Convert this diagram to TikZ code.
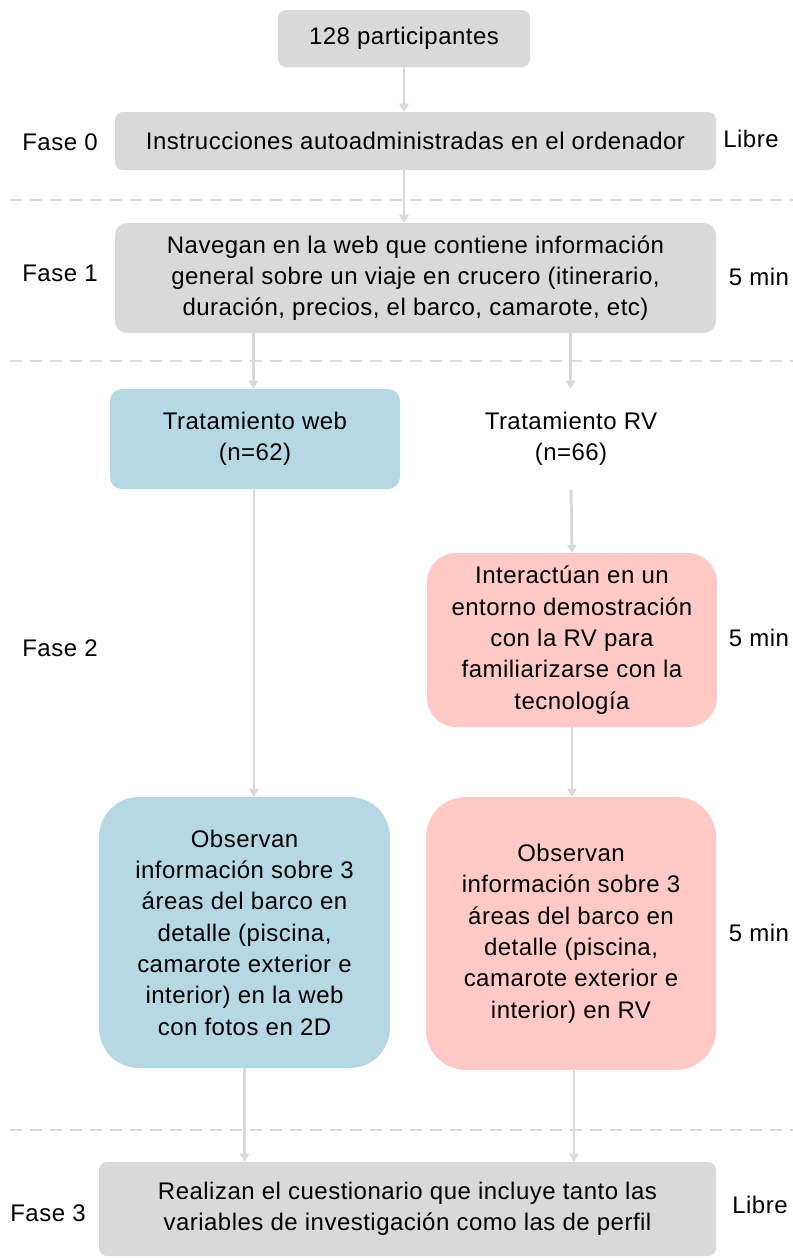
\documentclass[tikz,border=0pt]{standalone}
\usepackage{fontspec}
\setmainfont{Liberation Sans}[LetterSpace=2]
\usetikzlibrary{arrows.meta}
\definecolor{boxgray}{HTML}{D9D9D9}
\definecolor{boxblue}{HTML}{B6D8E4}
\definecolor{boxpink}{HTML}{FFC9C6}
\definecolor{linegray}{HTML}{D9D9D9}
\begin{document}
\begin{tikzpicture}[x=0.75pt,y=-0.75pt,
  txt/.style={font=\fontsize{18}{23.5}\selectfont, align=center, text=black},
  gbox/.style={txt, fill=boxgray, rounded corners=6pt, inner sep=0pt},
  bbox/.style={txt, fill=boxblue, inner sep=0pt},
  pbox/.style={txt, fill=boxpink, inner sep=0pt},
  lab/.style={txt},
  arr/.style={draw=linegray, line width=2.2pt, -{Triangle[width=7pt,length=6pt]}},
  sep/.style={draw=linegray, line width=1.5pt, dash pattern=on 9pt off 6pt}]
\useasboundingbox (0,0) rectangle (793,1258);
% boxes
\node[gbox, minimum width=252*0.75pt, minimum height=57*0.75pt] (p) at (404,38.5) {128 participantes};
\node[gbox, minimum width=601*0.75pt, minimum height=58*0.75pt] (f0) at (415.5,141) {Instrucciones autoadministradas en el ordenador};
\node[gbox, rounded corners=9pt, minimum width=601*0.75pt, minimum height=110*0.75pt] (f1) at (415.5,278) {Navegan en la web que contiene información\\general sobre un viaje en crucero (itinerario,\\duración, precios, el barco, camarote, etc)};
\node[bbox, rounded corners=9pt, minimum width=290*0.75pt, minimum height=100*0.75pt] (tw) at (255,439) {Tratamiento web\\(n=62)};
\node[txt, minimum width=290*0.75pt, minimum height=100*0.75pt, inner sep=0pt] (trv) at (571,439) {Tratamiento RV\\(n=66)};
\node[pbox, rounded corners=22pt, minimum width=290*0.75pt, minimum height=174*0.75pt] (demo) at (572,640) {Interactúan en un\\entorno demostración\\con la RV para\\familiarizarse con la\\tecnología};
\node[bbox, rounded corners=30pt, minimum width=291*0.75pt, minimum height=271*0.75pt] (ow) at (244.5,932.5) {Observan\\información sobre 3\\áreas del barco en\\detalle (piscina,\\camarote exterior e\\interior) en la web\\con fotos en 2D};
\node[pbox, rounded corners=30pt, minimum width=290*0.75pt, minimum height=273*0.75pt] (orv) at (571,933.5) {Observan\\información sobre 3\\áreas del barco en\\detalle (piscina,\\camarote exterior e\\interior) en RV};
\node[gbox, minimum width=617*0.75pt, minimum height=94*0.75pt] (f3) at (407.5,1209) {Realizan el cuestionario que incluye tanto las\\variables de investigación como las de perfil};
% side labels
\node[lab] (l0) at (60,142) {Fase 0};
\node[lab] (l1) at (60,273) {Fase 1};
\node[lab] (l2) at (60,648) {Fase 2};
\node[lab] (l3) at (48,1213) {Fase 3};
\node[lab] (t0) at (751,139) {Libre};
\node[lab] (t1) at (759,277) {5 min};
\node[lab] (t2) at (759,638) {5 min};
\node[lab] (t3) at (759,933) {5 min};
\node[lab] (t4) at (760,1205) {Libre};
% separators
\coordinate (s1a) at (10,200); \coordinate (s1b) at (793,200);
\coordinate (s2a) at (10,361); \coordinate (s2b) at (793,361);
\coordinate (s3a) at (10,1130); \coordinate (s3b) at (793,1130);
\draw[sep] (s1a) -- (s1b);
\draw[sep] (s2a) -- (s2b);
\draw[sep] (s3a) -- (s3b);
% arrows
\draw[arr] (p.south) -- (p.south |- f0.north);
\draw[arr] (f0.south -| p.south) -- (p.south |- f1.north);
\draw[arr] ([xshift=-162*0.75pt]f1.south) -- ([xshift=-162*0.75pt]f1.south |- tw.north);
\draw[arr] ([xshift=155*0.75pt]f1.south) -- ([xshift=155*0.75pt]f1.south |- tw.north);
\draw[arr] (trv.south) -- (demo.north);
\draw[arr] ([xshift=-1*0.75pt]tw.south) -- ([xshift=-1*0.75pt]tw.south |- ow.north);
\draw[arr] (demo.south) -- (demo.south |- orv.north);
\draw[arr] (ow.south) -- (ow.south |- f3.north);
\draw[arr] ([xshift=3*0.75pt]orv.south) -- ([xshift=3*0.75pt]orv.south |- f3.north);
\end{tikzpicture}
\end{document}
